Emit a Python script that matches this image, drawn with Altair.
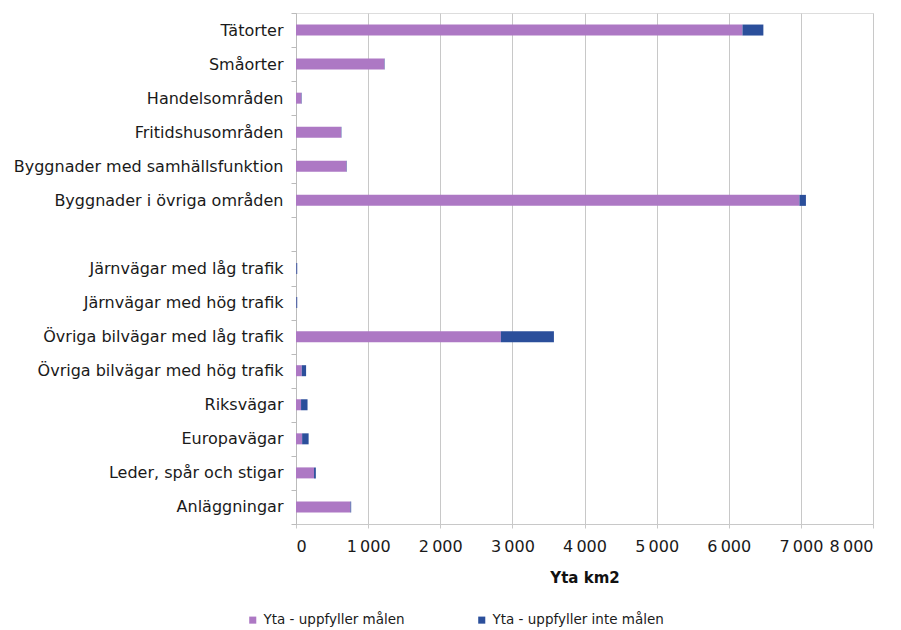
import altair as alt
import pandas as pd

categories = [
    "Tätorter",
    "Småorter",
    "Handelsområden",
    "Fritidshusområden",
    "Byggnader med samhällsfunktion",
    "Byggnader i övriga områden",
    " ",
    "Järnvägar med låg trafik",
    "Järnvägar med hög trafik",
    "Övriga bilvägar med låg trafik",
    "Övriga bilvägar med hög trafik",
    "Riksvägar",
    "Europavägar",
    "Leder, spår och stigar",
    "Anläggningar",
]
uppfyller = [6190, 1225, 75, 625, 700, 6980, 0, 5, 5, 2840, 80, 70, 85, 250, 755]
uppfyller_inte = [290, 5, 5, 5, 5, 90, 0, 12, 12, 736, 60, 90, 90, 25, 10]

series_names = ["Yta - uppfyller målen", "Yta - uppfyller inte målen"]
colors = ["#ad78c4", "#2b4f9b"]
x_ticks = [0, 1000, 2000, 3000, 4000, 5000, 6000, 7000, 8000]

rows = []
for i, c in enumerate(categories):
    rows.append({"cat": c, "serie": series_names[0], "val": uppfyller[i], "ord": 0})
    rows.append({"cat": c, "serie": series_names[1], "val": uppfyller_inte[i], "ord": 1})
df = pd.DataFrame(rows)

font = "DejaVu Sans"

chart = (
    alt.Chart(df)
    .mark_bar(size=11)
    .encode(
        y=alt.Y(
            "cat:N",
            sort=categories,
            title=None,
            scale=alt.Scale(paddingInner=0, paddingOuter=0),
            axis=alt.Axis(
                labelFont=font,
                labelFontSize=16,
                labelColor="#1a1a1a",
                labelPadding=8,
                tickBand="extent",
                tickSize=5,
                tickColor="#bbbbbb",
                domainColor="#bbbbbb",
                grid=False,
                labelLimit=400,
            ),
        ),
        x=alt.X(
            "val:Q",
            stack="zero",
            title="Yta km2",
            scale=alt.Scale(domain=[0, 8000], nice=False),
            axis=alt.Axis(
                values=x_ticks,
                labelExpr="replace(format(datum.value, ',d'), ',', '\u2009')",
                labelFont=font,
                labelFontSize=16,
                labelColor="#1a1a1a",
                labelPadding=10,
                titleFont=font,
                titleFontSize=15,
                titleFontWeight="bold",
                titleColor="#111111",
                titlePadding=16,
                grid=True,
                gridColor="#c8c8c8",
                tickSize=4,
                tickColor="#c8c8c8",
                domainColor="#c8c8c8",
            ),
        ),
        color=alt.Color(
            "serie:N",
            scale=alt.Scale(domain=series_names, range=colors),
            legend=alt.Legend(
                title=None,
                orient="none",
                legendX=-50,
                legendY=600,
                direction="horizontal",
                symbolType="square",
                symbolSize=50,
                symbolStrokeWidth=0,
                labelFont=font,
                labelFontSize=13.5,
                labelColor="#1a1a1a",
                labelLimit=400,
                columnPadding=70,
            ),
        ),
        order=alt.Order("ord:Q"),
    )
    .properties(
        width=577,
        height=511,
        autosize=alt.AutoSizeParams(type="none"),
        padding={"left": 288, "top": 5, "right": 20, "bottom": 106},
    )
    .configure_view(stroke=None)
    .configure(background="white")
)

chart.save("out.html", embed_options={"renderer": "svg", "actions": False})
